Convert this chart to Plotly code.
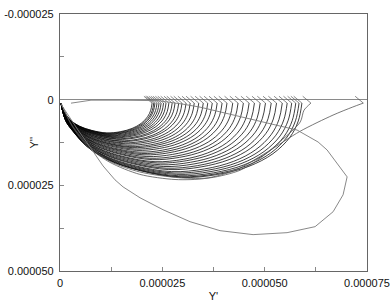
import plotly.graph_objects as go

U = 1e-6  # values below are in units of 1e-6

# ---- family of arcs (fan): end point x and bottom depth of each arc ----
fan_tip_x = [22.5, 22.9, 23.2, 23.7, 24.2, 24.7, 25.3, 25.9, 26.6, 27.4, 28.1, 29.0,
             29.8, 30.8, 31.8, 32.8, 33.9, 35.0, 36.1, 37.2, 38.4, 39.6, 40.8, 42.2,
             43.5, 44.8, 46.2, 47.5, 48.9, 50.2, 51.6, 52.9, 54.3, 55.5, 56.6, 57.6,
             58.4, 59.1]
fan_bottom_y = [9.7, 9.8, 10.0, 10.1, 10.3, 10.5, 10.7, 10.9, 11.1, 11.4, 11.6, 12.0,
                12.2, 12.6, 12.9, 13.3, 13.7, 14.0, 14.4, 14.8, 15.3, 15.7, 16.1, 16.6,
                17.1, 17.5, 18.1, 18.5, 19.0, 19.5, 20.0, 20.4, 21.0, 21.4, 21.8, 22.2,
                22.5, 22.7]
start_x, start_y = 0.24, 1.0
tip_y = 1.0
arm_dx, arm_top_y = 2.0, -1.0
# normalised arc shape (fraction of width, fraction of depth) read from the arcs
arc_u = [0, 0.02, 0.05, 0.11, 0.20, 0.33, 0.50, 0.65, 0.78, 0.88, 0.95, 0.985, 1.0]
arc_v = [0, 0.24, 0.38, 0.59, 0.77, 0.91, 1.00, 0.96, 0.85, 0.68, 0.46, 0.24, 0.0]

# ---- two wider arcs ----
arc312_x = [0.24, 2.9, 6.8, 12.2, 19.5, 29.3, 36.7, 44.0, 49.1, 53.8, 58.7, 59.6, 61.3]
arc312_y = [1.0, 7.4, 13.2, 18.0, 21.1, 22.8, 22.8, 20.6, 16.9, 12.2, 6.5, 3.1, 1.0]
arc363_x = [0.24, 2.9, 6.8, 12.2, 19.5, 28.1, 35.4, 42.8, 50.6, 58.7, 66.7, 71.4, 74.1]
arc363_y = [1.0, 7.6, 13.7, 18.3, 21.8, 23.3, 23.0, 20.6, 15.3, 9.2, 4.5, 2.2, 1.0]

# ---- outer loop ----
loop_x = [0.24, 1.96, 4.40, 7.33, 10.51, 13.44, 15.40, 19.55, 25.17, 31.77, 39.10, 47.17,
          55.47, 62.32, 66.72, 69.16, 70.14, 65.25, 63.05, 57.92, 46.43, 34.21, 30.06,
          23.95, 14.66, 7.58, 2.69]
loop_y = [1.31, 4.51, 8.87, 13.80, 19.33, 23.40, 25.45, 28.63, 32.12, 35.61, 38.23, 39.39,
          38.81, 37.06, 32.70, 27.76, 22.53, 14.68, 12.35, 8.87, 5.67, 2.18, 1.31,
          0.29, 0.15, 0.15, 1.02]

x_tick_vals = [0, 25, 50, 75]
x_tick_text = ["0", "0.000025", "0.000050", "0.000075"]
y_tick_vals = [-25, 0, 25, 50]
y_tick_text = ["-0.000025", "0", "0.000025", "0.000050"]
x_minor = [12.5, 37.5, 62.5]
y_minor = [-12.5, 12.5, 37.5]

fig = go.Figure()

# fan arcs
fx, fy = [], []
ax_, ay_ = [], []
for tx, by in zip(fan_tip_x, fan_bottom_y):
    for u, v in zip(arc_u, arc_v):
        fx.append((start_x + u * (tx - start_x)) * U)
        fy.append((start_y + v * (by - start_y)) * U)
    fx.append(None); fy.append(None)
    ax_ += [(tx - arm_dx) * U, tx * U, None]
    ay_ += [arm_top_y * U, tip_y * U, None]

fig.add_trace(go.Scatter(x=fx, y=fy, mode="lines",
                         line=dict(color="#000000", width=0.75, shape="spline", smoothing=1.0),
                         hoverinfo="skip", showlegend=False))
for xs, ys in ((arc312_x, arc312_y), (arc363_x, arc363_y)):
    fig.add_trace(go.Scatter(x=[v * U for v in xs], y=[v * U for v in ys], mode="lines",
                             line=dict(color="#555555", width=0.8, shape="spline", smoothing=0.8),
                             hoverinfo="skip", showlegend=False))
    ax_ += [(xs[-1] - arm_dx) * U, xs[-1] * U, None]
    ay_ += [arm_top_y * U, ys[-1] * U, None]

fig.add_trace(go.Scatter(x=ax_, y=ay_, mode="lines",
                         line=dict(color="#555555", width=0.7),
                         hoverinfo="skip", showlegend=False))

fig.add_trace(go.Scatter(x=[v * U for v in loop_x], y=[v * U for v in loop_y], mode="lines",
                         line=dict(color="#7a7a7a", width=0.9),
                         hoverinfo="skip", showlegend=False))

FAM = "Liberation Sans, Arial, sans-serif"
font = dict(family=FAM, size=11, color="#111111")
axis_common = dict(showgrid=False, showline=True, linecolor="#666666", linewidth=1.2,
                   mirror=True, ticks="inside", ticklen=4, tickcolor="#888888",
                   tickfont=font, automargin=False)

fig.update_layout(
    width=392, height=306,
    margin=dict(l=60, r=25, t=14, b=35),
    paper_bgcolor="white", plot_bgcolor="white",
    xaxis=dict(range=[0, 75 * U], tickvals=[v * U for v in x_tick_vals], ticktext=x_tick_text,
               minor=dict(tickvals=[v * U for v in x_minor], ticks="inside", ticklen=4,
                          tickcolor="#888888"),
               zeroline=False, ticklabelstandoff=2,
               title=dict(text="Y'", font=dict(family=FAM, size=11, color="#111111"), standoff=4),
               **axis_common),
    yaxis=dict(range=[50 * U, -25 * U], tickvals=[v * U for v in y_tick_vals], ticktext=y_tick_text,
               minor=dict(tickvals=[v * U for v in y_minor], ticks="inside", ticklen=4,
                          tickcolor="#888888"),
               zeroline=True, zerolinecolor="#8a8a8a", zerolinewidth=1, ticklabelstandoff=3,
               **axis_common),
    annotations=[dict(text="Y''", xref="paper", yref="paper", x=0, y=0.5, xshift=-35,
                      showarrow=False, textangle=-90,
                      font=dict(family=FAM, size=11, color="#111111"))],
)

fig.write_html("out.html", config={"displayModeBar": False},
               post_script="document.body.style.margin='0';document.body.style.overflow='hidden';")
